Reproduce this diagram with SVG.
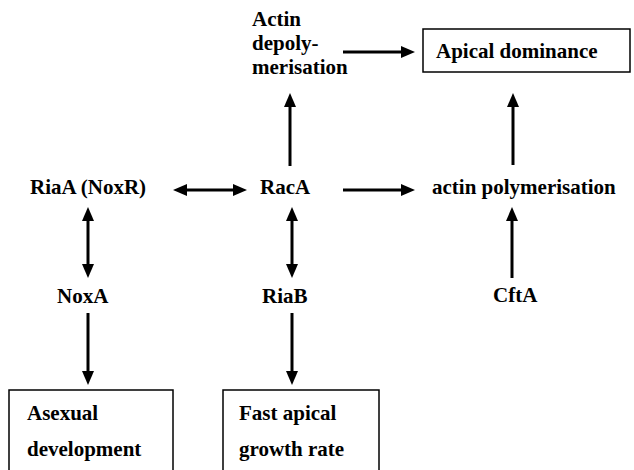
<svg xmlns="http://www.w3.org/2000/svg" width="634" height="470" viewBox="0 0 634 470" font-weight="bold" font-size="21">
<defs>
<marker id="ah" markerUnits="userSpaceOnUse" markerWidth="14" markerHeight="12" refX="1" refY="6" orient="auto-start-reverse">
<path d="M0,0 L14,6 L0,12 z" fill="#000"/>
</marker>
</defs>
<rect width="634" height="470" fill="#fff"/>
<g id="connectors" stroke="#000" stroke-width="3" fill="none">
<line x1="343" y1="52" x2="402" y2="52" marker-end="url(#ah)"/>
<line x1="290" y1="166" x2="290" y2="106" marker-end="url(#ah)"/>
<line x1="513" y1="165" x2="513" y2="106" marker-end="url(#ah)"/>
<line x1="186" y1="190" x2="234" y2="190" marker-start="url(#ah)" marker-end="url(#ah)"/>
<line x1="343" y1="190" x2="402" y2="190" marker-end="url(#ah)"/>
<line x1="88" y1="220" x2="88" y2="265" marker-start="url(#ah)" marker-end="url(#ah)"/>
<line x1="292" y1="220" x2="292" y2="265" marker-start="url(#ah)" marker-end="url(#ah)"/>
<line x1="512" y1="278" x2="512" y2="220" marker-end="url(#ah)"/>
<line x1="88" y1="313" x2="88" y2="372" marker-end="url(#ah)"/>
<line x1="292" y1="313" x2="292" y2="372" marker-end="url(#ah)"/>
</g>
<g id="actin-depol">
<text x="252" y="26" font-family="Liberation Serif">Actin</text>
<text x="252" y="50" font-family="Liberation Serif">depoly-</text>
<text x="252" y="74" font-family="Liberation Serif">merisation</text>
</g>
<g id="apical-dominance">
<rect x="423" y="29" width="207" height="43" fill="#fff" stroke="#000" stroke-width="1.5"/>
<text x="436" y="58" font-family="Liberation Serif">Apical dominance</text>
</g>
<g id="riaA"><text x="30" y="194" font-family="Liberation Serif">RiaA (NoxR)</text></g>
<g id="racA"><text x="260" y="194" font-family="Liberation Serif">RacA</text></g>
<g id="actin-pol"><text x="432" y="194" font-family="Liberation Serif">actin polymerisation</text></g>
<g id="noxA"><text x="57" y="303" font-family="Liberation Serif">NoxA</text></g>
<g id="riaB"><text x="262" y="303" font-family="Liberation Serif">RiaB</text></g>
<g id="cftA"><text x="493" y="302" font-family="Liberation Serif">CftA</text></g>
<g id="asexual">
<rect x="9" y="390" width="164" height="90" fill="#fff" stroke="#000" stroke-width="1.5"/>
<text x="27" y="420" font-family="Liberation Serif">Asexual</text>
<text x="27" y="456" font-family="Liberation Serif">development</text>
</g>
<g id="fast-apical">
<rect x="223" y="390" width="156" height="90" fill="#fff" stroke="#000" stroke-width="1.5"/>
<text x="239" y="420" font-family="Liberation Serif">Fast apical</text>
<text x="239" y="456" font-family="Liberation Serif">growth rate</text>
</g>
</svg>
